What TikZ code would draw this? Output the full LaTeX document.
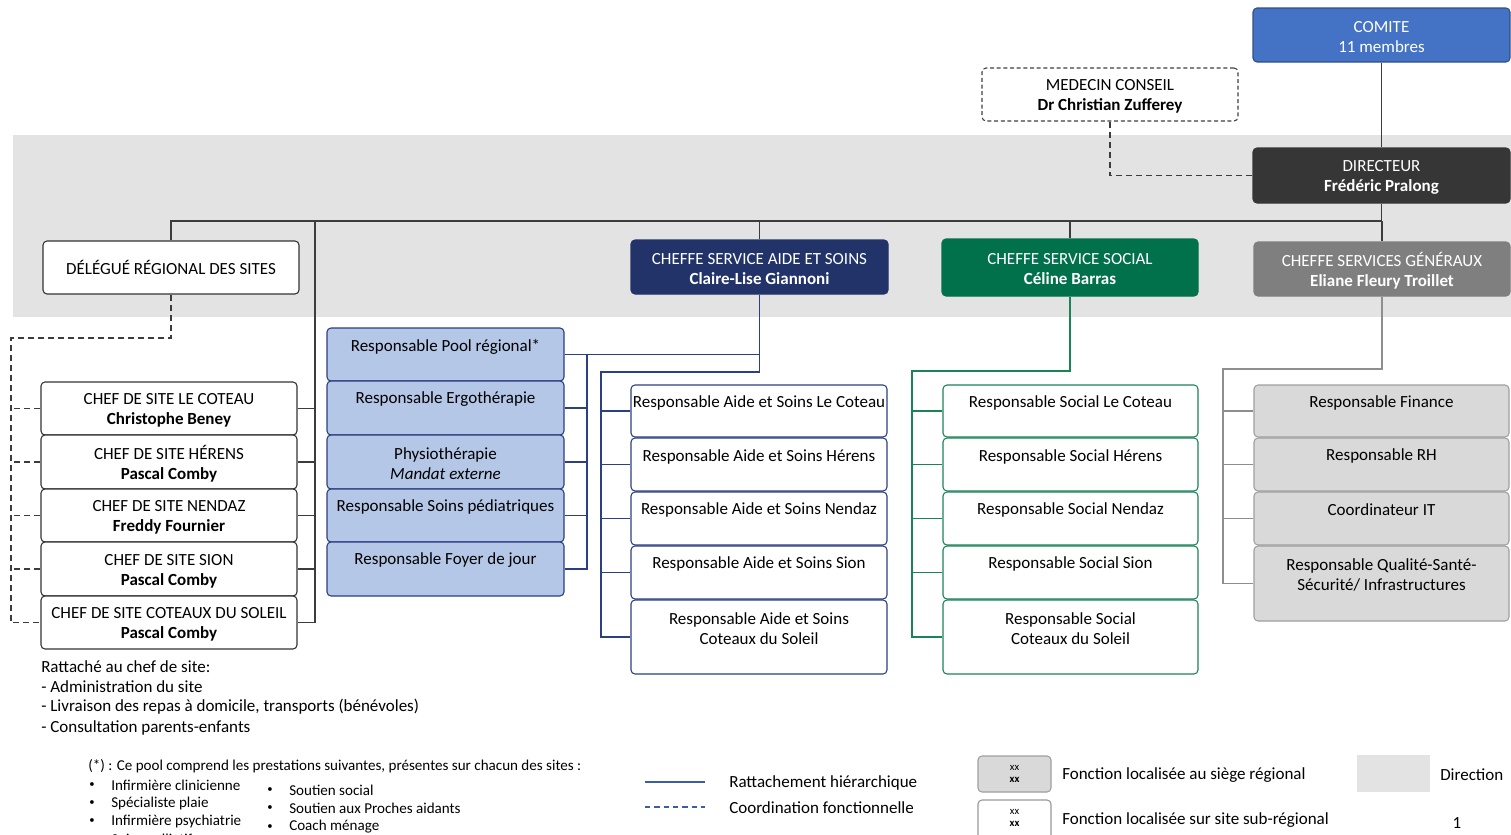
\documentclass[tikz,border=0pt]{standalone}
\usepackage{fontspec}
\setmainfont{Carlito}
\usetikzlibrary{fit,calc}
\definecolor{bandc}{HTML}{E3E3E3}
\definecolor{comitec}{HTML}{4472C4}
\definecolor{dirc}{HTML}{363636}
\definecolor{navyc}{HTML}{22336A}
\definecolor{greenc}{HTML}{00714A}
\definecolor{genc}{HTML}{7F7F7F}
\definecolor{poolc}{HTML}{B4C7E7}
\definecolor{nvline}{HTML}{2C3F80}
\definecolor{grline}{HTML}{1A8459}
\definecolor{gyline}{HTML}{8E8E8E}
\definecolor{gyfill}{HTML}{D9D9D9}
\definecolor{blkline}{HTML}{3C3C3C}
\definecolor{legblue}{HTML}{3A5DA8}
\begin{document}
\begin{tikzpicture}[x=0.75pt,y=-0.75pt,
  every node/.style={font=\fontsize{12.75}{15}\selectfont, align=center, inner sep=0pt, text=black},
  bx/.style={draw, rounded corners=3pt, line width=0.8pt, inner sep=0pt},
  topbox/.style={bx},
  ctr/.style={yshift=-1.5pt},
  wt/.style={ctr, text=white},
  chefbox/.style={bx, draw=black!80, fill=white},
  poolbox/.style={bx, draw=nvline, fill=poolc},
  aidebox/.style={bx, draw=nvline, fill=white},
  socbox/.style={bx, draw=grline, fill=white},
  genbox/.style={bx, draw=gray!75, fill=gyfill},
  blk/.style={draw=blkline, line width=0.9pt},
  nv/.style={draw=nvline, line width=0.9pt},
  gr/.style={draw=grline, line width=0.9pt},
  gy/.style={draw=gyline, line width=0.9pt},
  dsh/.style={draw=blkline, line width=0.8pt, dash pattern=on 4.5pt off 3pt},
  note/.style={anchor=west},
  small/.style={anchor=west, font=\fontsize{11.3}{13.5}\selectfont},
  bul/.style={anchor=west, font=\fontsize{8}{10}\selectfont},
  tiny/.style={font=\fontsize{8}{8.5}\selectfont}
]
\useasboundingbox (0,0) rectangle (1511,835);
\fill[bandc] (13,135) rectangle (1511,317);

% top level
\node[topbox, fill=comitec, draw=comitec!70!black, fit={(1253,8)(1510,62)}] (comite) {};
\node[wt] (comitet) at (comite.center) {COMITE\\11 membres};
\node[bx, fill=white, draw=black!75, dash pattern=on 3pt off 2pt, fit={(982,68)(1238,121)}] (med) {};
\node[ctr] (medt) at (med.center) {MEDECIN CONSEIL\\\textbf{Dr Christian Zufferey}};
\node[topbox, fill=dirc, draw=dirc, fit={(1253,148)(1510,203)}] (dir) {};
\node[wt] (dirt) at (dir.center) {DIRECTEUR\\\textbf{Frédéric Pralong}};
\node[chefbox, fit={(43,241)(299,294)}] (deleg) {};
\node (delegt) at (deleg.center) {DÉLÉGUÉ RÉGIONAL DES SITES};
\node[topbox, fill=navyc, draw=navyc, fit={(631,240)(888,294)}] (aide) {};
\node[wt] (aidet) at (aide.center) {CHEFFE SERVICE AIDE ET SOINS\\\textbf{Claire-Lise Giannoni}};
\node[topbox, fill=greenc, draw=greenc, fit={(942,239)(1198,296)}] (soc) {};
\node[wt] (soct) at (soc.center) {CHEFFE SERVICE SOCIAL\\\textbf{Céline Barras}};
\node[topbox, fill=genc, draw=genc, fit={(1254,242)(1510,296)}] (gen) {};
\node[wt] (gent) at (gen.center) {CHEFFE SERVICES GÉNÉRAUX\\\textbf{Eliane Fleury Troillet}};

% chefs de site
\node[chefbox, fit={(41,382)(297,435)}] (c1) {};
\node[chefbox, fit={(41,435)(297,489)}] (c2) {};
\node[chefbox, fit={(41,489)(297,542)}] (c3) {};
\node[chefbox, fit={(41,542)(297,596)}] (c4) {};
\node[chefbox, fit={(41,596)(297,649)}] (c5) {};
\node[ctr] (c1t) at (c1.center) {CHEF DE SITE LE COTEAU\\\textbf{Christophe Beney}};
\node[ctr] (c2t) at (c2.center) {CHEF DE SITE HÉRENS\\\textbf{Pascal Comby}};
\node[ctr] (c3t) at (c3.center) {CHEF DE SITE NENDAZ\\\textbf{Freddy Fournier}};
\node[ctr] (c4t) at (c4.center) {CHEF DE SITE SION\\\textbf{Pascal Comby}};
\node[ctr] (c5t) at (c5.center) {CHEF DE SITE COTEAUX DU SOLEIL\\\textbf{Pascal Comby}};

% pool
\node[poolbox, fit={(327,328)(564,381)}] (p1) {};
\node[poolbox, fit={(327,381)(564,435)}] (p2) {};
\node[poolbox, fit={(327,435)(564,489)}] (p3) {};
\node[poolbox, fit={(327,489)(564,542)}] (p4) {};
\node[poolbox, fit={(327,542)(564,596)}] (p5) {};
\node (p1t) at ($(p1.north)+(0,19)$) {Responsable Pool régional*};
\node (p2t) at ($(p2.north)+(0,19)$) {Responsable Ergothérapie};
\node[ctr] (p3t) at (p3.center) {Physiothérapie\\\textit{Mandat externe}};
\node (p4t) at ($(p4.north)+(0,18)$) {Responsable Soins pédiatriques};
\node (p5t) at ($(p5.north)+(0,19)$) {Responsable Foyer de jour};

% aide et soins
\node[aidebox, fit={(631,385)(887,437)}] (a1) {};
\node[aidebox, fit={(631,438)(887,491)}] (a2) {};
\node[aidebox, fit={(631,492)(887,545)}] (a3) {};
\node[aidebox, fit={(631,546)(887,599)}] (a4) {};
\node[aidebox, fit={(631,600)(887,674)}] (a5) {};
\node (a1t) at ($(a1.north)+(0,18)$) {Responsable Aide et Soins Le Coteau};
\node (a2t) at ($(a2.north)+(0,19)$) {Responsable Aide et Soins Hérens};
\node (a3t) at ($(a3.north)+(0,18)$) {Responsable Aide et Soins Nendaz};
\node (a4t) at ($(a4.north)+(0,18)$) {Responsable Aide et Soins Sion};
\node (a5t) at ($(a5.north)+(0,29)$) {Responsable Aide et Soins\\Coteaux du Soleil};

% social
\node[socbox, fit={(943,385)(1198,437)}] (s1) {};
\node[socbox, fit={(943,438)(1198,491)}] (s2) {};
\node[socbox, fit={(943,492)(1198,545)}] (s3) {};
\node[socbox, fit={(943,546)(1198,599)}] (s4) {};
\node[socbox, fit={(943,600)(1198,674)}] (s5) {};
\node (s1t) at ($(s1.north)+(0,18)$) {Responsable Social Le Coteau};
\node (s2t) at ($(s2.north)+(0,19)$) {Responsable Social Hérens};
\node (s3t) at ($(s3.north)+(0,18)$) {Responsable Social Nendaz};
\node (s4t) at ($(s4.north)+(0,18)$) {Responsable Social Sion};
\node (s5t) at ($(s5.north)+(0,29)$) {Responsable Social\\Coteaux du Soleil};

% services generaux
\node[genbox, fit={(1254,385)(1509,437)}] (g1) {};
\node[genbox, fit={(1254,438)(1509,491)}] (g2) {};
\node[genbox, fit={(1254,492)(1509,545)}] (g3) {};
\node[genbox, fit={(1254,546)(1509,621)}] (g4) {};
\node (g1t) at ($(g1.north)+(0,18)$) {Responsable Finance};
\node (g2t) at ($(g2.north)+(0,18)$) {Responsable RH};
\node (g3t) at ($(g3.north)+(0,18)$) {Coordinateur IT};
\node (g4t) at ($(g4.north)+(0,29)$) {Responsable Qualité-Santé-\\Sécurité/ Infrastructures};

% connectors top
\coordinate (bus) at (1381.5,221);
\draw[blk] (comite.south) -- (dir.north);
\draw[dsh] (med.south) |- (dir.west);
\draw[blk] (dir.south) -- (bus);
\draw[blk] (deleg.north) |- (bus);
\draw[blk] (aide.north) -- (aide.north |- bus);
\draw[blk] (soc.north) -- (soc.north |- bus);
\draw[blk] (gen.north) -- (gen.north |- bus);

% chefs de site
\coordinate (sbus) at (315,221);
\draw[blk] (sbus) |- (c5.east);
\foreach \n in {c1,c2,c3,c4} { \draw[blk] (\n.east) -- (\n.east -| sbus); }
\coordinate (dl) at (11,338);
\draw[dsh] (deleg.south) |- (dl) |- (c5.west);
\foreach \n in {c1,c2,c3,c4} { \draw[dsh] (\n.west) -- (\n.west -| dl); }

% aide et soins
\coordinate (abus) at (601,372);
\draw[nv] (aide.south) |- (abus) |- (a5.west);
\foreach \n in {a1,a2,a3,a4} { \draw[nv] (\n.west) -- (\n.west -| abus); }
\draw[nv] (p1.east) -| (aide.south);
\coordinate (pbus) at (587,354.5);
\draw[nv] (pbus) |- (p5.east);
\foreach \n in {p2,p3,p4} { \draw[nv] (\n.east) -- (\n.east -| pbus); }

% social
\coordinate (sbus2) at (912,371);
\draw[gr] (soc.south) |- (sbus2) |- (s5.west);
\foreach \n in {s1,s2,s3,s4} { \draw[gr] (\n.west) -- (\n.west -| sbus2); }

% generaux
\coordinate (gbus) at (1223,369);
\draw[gy] (gen.south) |- (gbus) |- (g4.west);
\foreach \n in {g1,g2,g3} { \draw[gy] (\n.west) -- (\n.west -| gbus); }

% notes
\node[note] (n1) at (41,667) {Rattaché au chef de site:};
\node[note] (n2) at (41,687) {- Administration du site};
\node[note] (n3) at (41,707) {- Livraison des repas à domicile, transports (bénévoles)};
\node[note] (n4) at (41,728) {- Consultation parents-enfants};

\node[small] (f0) at (88,766) {(*) : Ce pool comprend les prestations suivantes, présentes sur chacun des sites :};
\node[bul] (b1) at (89,785) {•}; \node[small] (f1) at (111,785) {Infirmière clinicienne};
\node[bul] (b2) at (89,803) {•}; \node[small] (f2) at (111,803) {Spécialiste plaie};
\node[bul] (b3) at (89,821) {•}; \node[small] (f3) at (111,821) {Infirmière psychiatrie};
\node[bul] (b4) at (89,840) {•}; \node[small] (f4) at (111,840) {Soins palliatifs};
\node[bul] (b5) at (267,790) {•}; \node[small] (f5) at (289,790) {Soutien social};
\node[bul] (b6) at (267,808) {•}; \node[small] (f6) at (289,808) {Soutien aux Proches aidants};
\node[bul] (b7) at (267,827) {•}; \node[small] (f7) at (289,827) {Coach ménage};

% legend
\coordinate (l1a) at (645,782); \coordinate (l1b) at (705,782);
\draw[draw=legblue, line width=0.9pt] (l1a) -- (l1b);
\node[note] (lt1) at (729,783) {Rattachement hiérarchique};
\coordinate (l2a) at (645,807); \coordinate (l2b) at (705,807);
\draw[draw=legblue, line width=0.9pt, dash pattern=on 4pt off 3pt] (l2a) -- (l2b);
\node[note] (lt2) at (729,808) {Coordination fonctionnelle};

\node[genbox, fit={(978,756)(1051,792)}] (k1) {};
\node[tiny] (k1t) at (k1.center) {xx\\\textbf{xx}};
\node[note] (k1l) at (1062,775) {Fonction localisée au siège régional};
\node[chefbox, draw=gray!80, fit={(978,800)(1051,842)}] (k2) {};
\node[tiny] (k2t) at (1014.5,818) {xx\\\textbf{xx}};
\node[note] (k2l) at (1062,820) {Fonction localisée sur site sub-régional};

\node[fill=bandc, fit={(1357,755)(1430,792)}] (k3) {};
\node[note] (k3l) at (1440,775) {Direction};
\node (pg) at (1457,823) {1};
\end{tikzpicture}
\end{document}
